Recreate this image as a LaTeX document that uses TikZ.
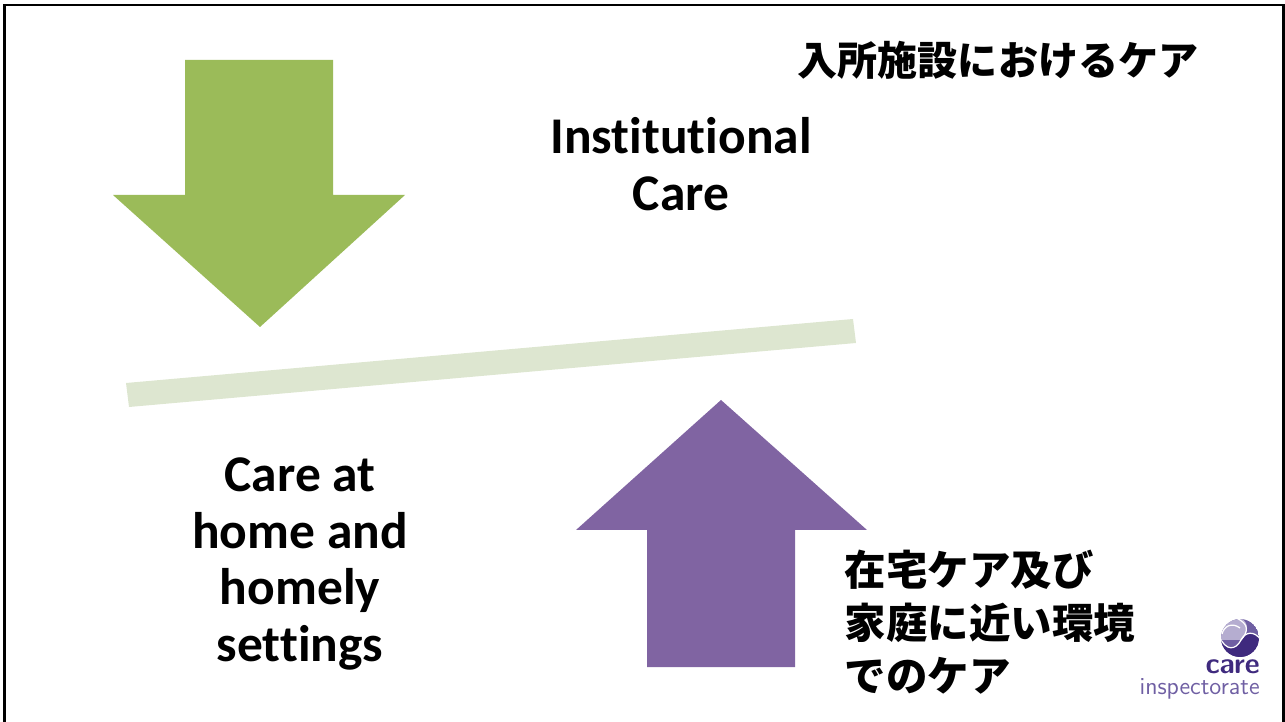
\documentclass[tikz,border=0pt]{standalone}
\usepackage{fontspec}
\setmainfont{Carlito}[Ligatures=NoCommon]
\newfontfamily\cjk{Noto Sans CJK JP}
\usepackage{tikz}
\usetikzlibrary{positioning}
\definecolor{arrowgreen}{HTML}{9BBB59}
\definecolor{arrowpurple}{HTML}{8064A2}
\definecolor{barlight}{HTML}{DDE6D0}
\definecolor{logodark}{HTML}{3F2A7E}
\definecolor{logomid}{HTML}{6F5FA3}
\definecolor{logolight}{HTML}{B5ADD0}

\begin{document}
\begin{tikzpicture}[
                    x=0.02cm, y=-0.02cm,
                    engtext/.style = {font=\fontsize{29.3}{32.4}\selectfont\bfseries, align=center, text=black},
                    jptext/.style = {font=\cjk\fontsize{23.6}{30}\selectfont\bfseries, align=left, text=black}
                ]
                \useasboundingbox (0,0) rectangle (1285,722);

                % frame
                \draw[line width=1.4pt] (4.5,722) -- (4.5,5) -- (1283.5,5) -- (1283.5,722);

                % arrows and bar
                \fill[arrowgreen] (185,60) -- (333,60) -- (333,195) -- (405,195) -- (260,327) -- (113,195) -- (185,195) -- cycle;
                \fill[arrowpurple] (647,667) -- (795,667) -- (795,530) -- (867,530) -- (721,400) -- (576,530) -- (647,530) -- cycle;
                \fill[barlight] (126,383) -- (853,319) -- (856,343) -- (129,407) -- cycle;

                % labels
                \node[jptext, font=\cjk\fontsize{22.8}{30}\selectfont\bfseries] (titleJp) at (998,60) {入所施設におけるケア};
                \node[engtext] (titleEn) at (681,164) {Institutional\\Care};
                \node[engtext] (homeEn) at (300,564) {Care at\\home and\\homely\\settings};
                \node[jptext] (homeJp) at (990,622) {在宅ケア及び\\家庭に近い環境\\でのケア};

                % logo
                \begin{scope}
                    \clip (1240,638) circle (19);
                    \fill[logomid] (1240,638) circle (19);
                    \fill[logolight] (1219,615) rectangle (1241,640);
                    \fill[logolight] (1241,618) .. controls (1250,624) and (1248,632) .. (1240,640) -- (1236,620) -- cycle;
                    \fill[logodark] (1219,636) .. controls (1226,652) and (1236,650) .. (1241,640) .. controls (1245,632) and (1254,630) .. (1261,640) -- (1261,660) -- (1219,660) -- cycle;
                    \draw[white, line width=0.7pt] (1219,636) .. controls (1226,652) and (1236,650) .. (1241,640) .. controls (1245,632) and (1254,630) .. (1261,640);
                    \draw[white, line width=0.7pt] (1236,618) .. controls (1250,624) and (1248,632) .. (1241,640);
                    \draw[white, line width=0.7pt] (1222,634) .. controls (1224,626) and (1232,622) .. (1240,628);
                \end{scope}
                \node[anchor=east, inner sep=0pt, text=logodark, font=\sffamily\fontsize{16.5}{17}\selectfont\bfseries] (logoCare) at (1260,667) {care};
                \node[anchor=east, inner sep=0pt, text=logomid, font=\sffamily\fontsize{13.9}{13}\selectfont] (logoName) at (1260,689) {inspectorate};
            \end{tikzpicture}
\end{document}
